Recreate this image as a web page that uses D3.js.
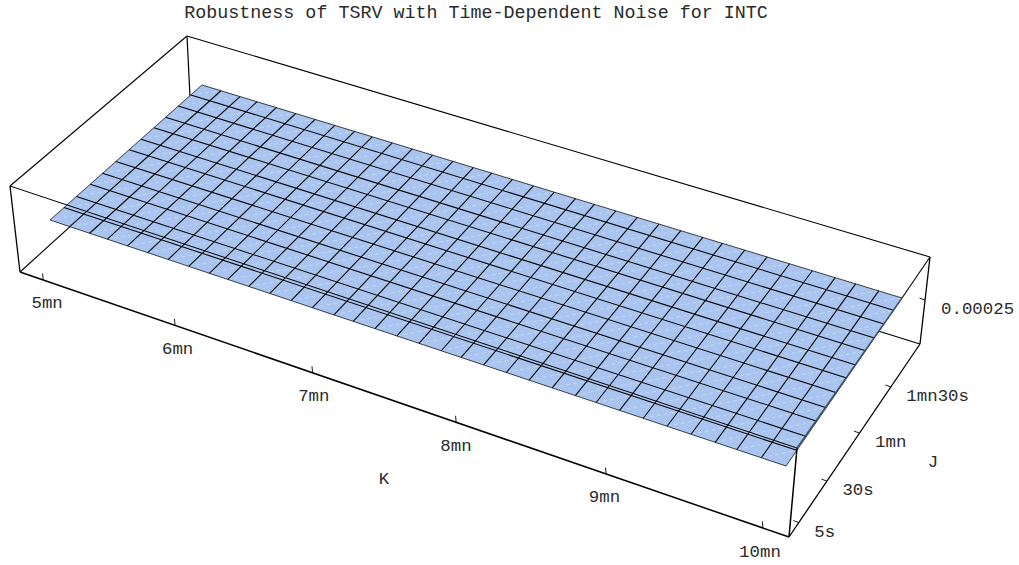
<!DOCTYPE html>
<html><head><meta charset="utf-8">
<script src="https://cdn.jsdelivr.net/npm/d3@7/dist/d3.min.js"></script>
<style>html,body{margin:0;padding:0;background:#fff}svg{display:block}text{font-family:"Liberation Mono",monospace;fill:#2a2a2a}</style>
</head><body><svg id="c" width="1019" height="565"></svg>
<script>
// ---- data (seconds / value units) ----
const titleText = "Robustness of TSRV with Time-Dependent Noise for INTC";
const kGrid = [300,309,318,326,335,344,353,362,371,379,388,397,406,415,424,432,441,450,459,468,476,485,494,503,512,521,529,538,547,556,565,574,582,591,600];
const jGrid = [5,15,24,34,43,53,63,72,82,91,101,111,120];
const kTickValues = [300,360,420,480,540,600];
const kTickLabels = ["5mn","6mn","7mn","8mn","9mn","10mn"];
const jTickValues = [5,30,60,90];
const jTickLabels = ["5s","30s","1mn","1mn30s"];
const zTickValues = [0.00025];
const zTickLabels = ["0.00025"];
const kDomain = [289.2,609.7], jDomain = [-3.5,119], zDomain = [0.000149,0.000349];

// ---- camera calibration: where the plot box and the surface plane land on the page ----
const boxBottom = [[20,272],[789,537],[920,344],[191,117]];
const boxTop    = [[10,186],[797,448],[930,257],[187,36]];
const surfacePlane = [[50,220],[786,466],[902,298],[202,85]];

function homography(q){
  const [[x0,y0],[x1,y1],[x2,y2],[x3,y3]] = q;
  const dx1=x1-x2,dx2=x3-x2,sx=x0-x1+x2-x3,dy1=y1-y2,dy2=y3-y2,sy=y0-y1+y2-y3;
  const den=dx1*dy2-dx2*dy1, g=(sx*dy2-dx2*sy)/den, h=(dx1*sy-sx*dy1)/den;
  const a=x1-x0+g*x1,b=x3-x0+h*x3,d=y1-y0+g*y1,e=y3-y0+h*y3;
  return (u,v)=>{const w=g*u+h*v+1;return [(a*u+b*v+x0)/w,(d*u+e*v+y0)/w];};
}
const kBox=d3.scaleLinear().domain(kDomain).range([0,1]);
const jBox=d3.scaleLinear().domain(jDomain).range([0,1]);
const zBox=d3.scaleLinear().domain(zDomain).range([0,1]);
const kSurf=d3.scaleLinear().domain(d3.extent(kGrid)).range([0,1]);
const jSurf=d3.scaleLinear().domain(d3.extent(jGrid)).range([0,1]);
const bottom=homography(boxBottom), surf=homography(surfacePlane);
const S=(k,j)=>surf(kSurf(k),jSurf(j));
const line=d3.line();
const svg=d3.select("#c");
const edge=(a,b,w,col)=>svg.append("path").attr("d",line([a,b])).attr("fill","none").attr("stroke",col||"#000").attr("stroke-width",w);

// back of box
edge(boxBottom[0],boxBottom[3],1.1);
edge(boxBottom[3],boxBottom[2],1.1);
edge(boxTop[3],boxBottom[3],1.2);
edge(boxTop[0],boxTop[3],1.1);
edge(boxTop[3],boxTop[2],1.1);

// surface
const cells=[];
for(let i=0;i<kGrid.length-1;i++)for(let l=0;l<jGrid.length-1;l++)cells.push({i,l});
const cellG=svg.append("g");
cellG.selectAll("path").data(cells).join("path")
  .attr("d",c=>line([S(kGrid[c.i],jGrid[c.l]),S(kGrid[c.i+1],jGrid[c.l]),S(kGrid[c.i+1],jGrid[c.l+1]),S(kGrid[c.i],jGrid[c.l+1])])+"Z")
  .attr("fill","#a9c4ee").attr("stroke","#a9c4ee").attr("stroke-width",0.4);
svg.append("g").selectAll("path").data(cells).join("path")
  .attr("d",c=>line([S(kGrid[c.i],jGrid[c.l]),S(kGrid[c.i+1],jGrid[c.l+1])]))
  .attr("stroke","#cfdef6").attr("stroke-width",0.7).attr("stroke-dasharray","4 3").attr("fill","none");
const kLine=svg.append("g"), jLine=svg.append("g");
kLine.selectAll("path").data(kGrid).join("path")
  .attr("d",k=>line([S(k,jGrid[0]),S(k,jGrid[jGrid.length-1])]))
  .attr("stroke","#000").attr("fill","none").attr("stroke-width",(k,i)=>(i==0||i==kGrid.length-1)?0.7:1.05);
jLine.selectAll("path").data(jGrid).join("path")
  .attr("d",j=>line([S(kGrid[0],j),S(kGrid[kGrid.length-1],j)]))
  .attr("stroke","#000").attr("fill","none").attr("stroke-width",(j,i)=>(i==0||i==jGrid.length-1)?0.7:1.05);

// front of box
edge(boxTop[0],boxBottom[0],1.3);
edge(boxTop[2],boxBottom[2],1.3);
edge(boxTop[0],boxTop[1],1);
const surfaceRight=S(kGrid[kGrid.length-1],jGrid[jGrid.length-1]);
edge(boxTop[1],surfaceRight,1.4,"#3f5170");
edge(surfaceRight,boxTop[2],1.1);
edge(boxTop[1],boxBottom[1],1.5);
edge(boxBottom[0],boxBottom[1],1.5);
edge(boxBottom[1],boxBottom[2],1.3);

const tick=(a,b)=>svg.append("path").attr("d",line([a,b])).attr("stroke","#000").attr("stroke-width",0.9).attr("fill","none");
const label=(t,x,y,anchor,size)=>svg.append("text").attr("x",x).attr("y",y).attr("text-anchor",anchor).attr("font-size",size).text(t);

// K axis
const kNudge=d3.scaleLinear().domain([300,600]).range([4,-3]);
kTickValues.forEach((k,i)=>{
  const p=bottom(kBox(k),0);
  tick(p,[p[0]-0.6,p[1]-6.5]);
  label(kTickLabels[i],p[0]+kNudge(k),p[1]+28.5,"middle",17.4);
});
// J axis
jTickValues.forEach((j,i)=>{
  const p=bottom(1,jBox(j));
  tick(p,[p[0]-5.5,p[1]-2]);
  label(jTickLabels[i],p[0]+15.5,p[1]+14,"start",17.4);
});
// Z axis
const zPos=d3.scaleLinear().domain([0,1]).range([boxBottom[2],boxTop[2]]).interpolate(d3.interpolateArray);
zTickValues.forEach((z,i)=>{
  const p=zPos(zBox(z));
  tick(p,[p[0]-5.5,p[1]-2]);
  label(zTickLabels[i],p[0]+16,p[1]+14,"start",17.4);
});
label("K",384,484,"middle",17.4);
label("J",933,467,"middle",17.4);
label(titleText,476,18,"middle",18.35);
</script></body></html>
